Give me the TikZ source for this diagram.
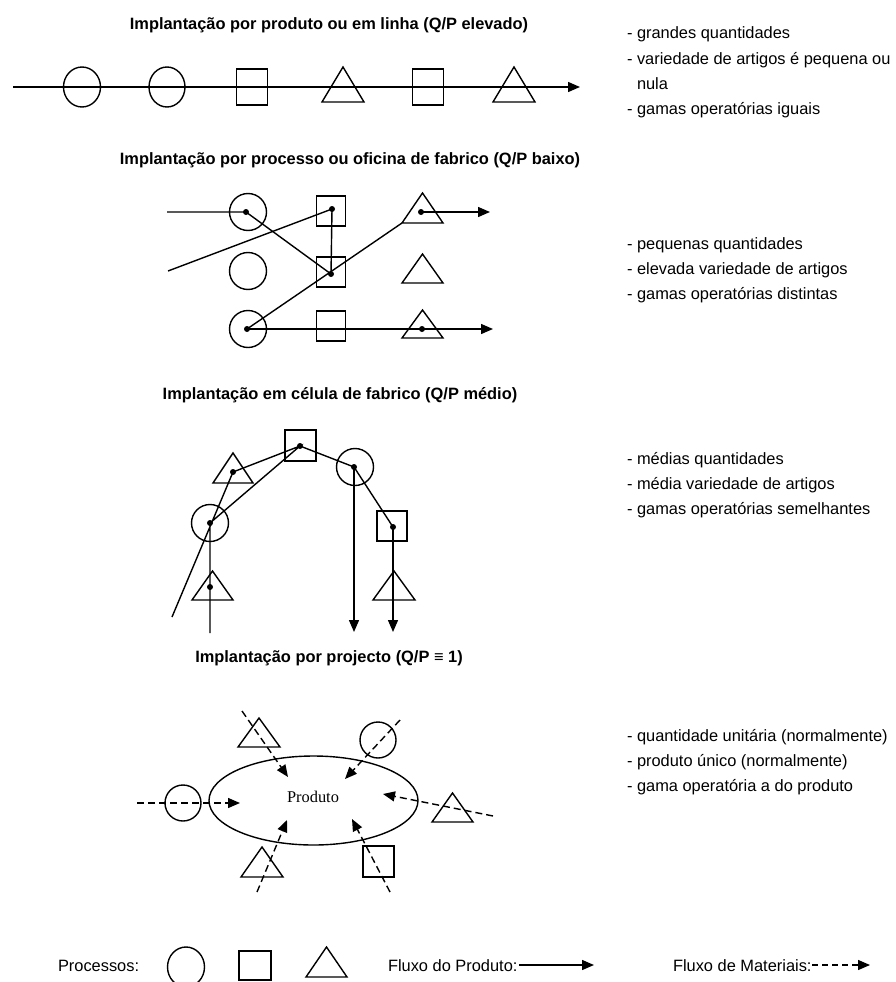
\documentclass[tikz,border=0pt]{standalone}
\usepackage{fontspec}
\setmainfont{Liberation Sans}
\newfontfamily\serifface{Liberation Serif}
\usetikzlibrary{arrows.meta,shapes.geometric}

% triangle drawn on the corners of an invisible box node
\newcommand{\drawtri}[1]{\draw[thickline, line join=miter] (#1.south west) -- (#1.north) -- (#1.south east) -- cycle;}

\begin{document}
\begin{tikzpicture}[x=1pt,y=-1pt,
  every node/.style={inner sep=0pt, outer sep=0pt},
  thickline/.style={line width=1.4pt},
  proc circ/.style={draw, thickline, circle, minimum size=#1},
  proc oval/.style 2 args={draw, thickline, ellipse, minimum width=#1, minimum height=#2},
  proc box/.style 2 args={draw, thickline, rectangle, minimum width=#1, minimum height=#2},
  tri box/.style 2 args={rectangle, minimum width=#1, minimum height=#2},
  dotmark/.style={circle, fill, minimum size=6pt},
  prodflow/.style={thickline, -{Triangle[length=12pt,width=10pt]}},
  prodline/.style={thickline},
  matflow/.style={thickline, dash pattern=on 7pt off 4pt, -{Triangle[length=12pt,width=10pt]}},
  heading/.style={font=\fontsize{16.4}{20}\selectfont\bfseries},
  note/.style={font=\fontsize{16.4}{20}\selectfont, anchor=base west},
]
\useasboundingbox (0,0) rectangle (895,982);

% ---------------- line layout ----------------
\node[heading] (h1) at (329,25) {Implantação por produto ou em linha (Q/P elevado)};
\coordinate (l0) at (13,87);
\coordinate (l1) at (580,87);
\node[proc oval={37}{40}] (a1) at (82,87) {};
\node[proc oval={36}{40}] (a2) at (167,87) {};
\node[proc box={31}{36}] (a3) at (252,87) {};
\node[tri box={42}{35}] (a4) at (343,84.5) {};
\node[proc box={31}{36}] (a5) at (428,87) {};
\node[tri box={42}{35}] (a6) at (514,84.5) {};
\drawtri{a4}
\drawtri{a6}
\draw[prodflow] (l0) -- (l1);

\node[note] (n1a) at (627,39) {- grandes quantidades};
\node[note] (n1b) at (627,64) {- variedade de artigos é pequena ou};
\node[note] (n1c) at (637,89) {nula};
\node[note] (n1d) at (627,114) {- gamas operatórias iguais};

% ---------------- process layout ----------------
\node[heading] (h2) at (350,160) {Implantação por processo ou oficina de fabrico (Q/P baixo)};
\node[proc circ=37] (b1) at (248,212) {};
\node[proc box={29}{30}] (b2) at (331,211) {};
\node[tri box={41}{30}] (b3) at (422.5,208) {};
\node[proc circ=37] (b4) at (248,271) {};
\node[proc box={29}{30}] (b5) at (331,272) {};
\node[tri box={41}{29}] (b6) at (422.5,268.5) {};
\node[proc circ=37] (b7) at (248,329) {};
\node[proc box={29}{30}] (b8) at (331,326) {};
\node[tri box={41}{28}] (b9) at (422.5,324) {};
\drawtri{b3}
\drawtri{b6}
\drawtri{b9}
\node[dotmark] (p1) at (246,212) {};
\node[dotmark] (p2) at (332,209) {};
\node[dotmark] (p3) at (421,212) {};
\node[dotmark] (p5) at (331,274) {};
\node[dotmark] (p7) at (247,329) {};
\node[dotmark] (p9) at (422,329) {};
\coordinate (in1) at (167,212);
\coordinate (in2) at (168,271);
\coordinate (out1) at (490,212);
\coordinate (out2) at (493,329);
\draw[prodline] (in1) -- (p1.center) -- (p5.center);
\draw[prodline] (in2) -- (p2.center) -- (p5.center);
\draw[prodline] (p7.center) -- (b3.south west);
\draw[prodflow] (p3.center) -- (out1);
\draw[prodflow] (p7.center) -- (out2);

\node[note] (n2a) at (627,249) {- pequenas quantidades};
\node[note] (n2b) at (627,274) {- elevada variedade de artigos};
\node[note] (n2c) at (627,299) {- gamas operatórias distintas};

% ---------------- cell layout ----------------
\node[heading] (h3) at (340,395) {Implantação em célula de fabrico (Q/P médio)};
\node[proc box={31}{31}] (c1) at (300.5,445.5) {};
\node[tri box={40}{30}] (c2) at (233,468) {};
\node[proc circ=37] (c3) at (355,467) {};
\node[proc circ=37] (c4) at (210,523) {};
\node[proc box={30}{30}] (c5) at (392,526) {};
\node[tri box={41}{29}] (c6) at (212.5,585.5) {};
\node[tri box={42}{29}] (c7) at (394,585.5) {};
\drawtri{c2}
\drawtri{c6}
\drawtri{c7}
\node[dotmark] (q1) at (300,446) {};
\node[dotmark] (q2) at (233,472) {};
\node[dotmark] (q3) at (354,467) {};
\node[dotmark] (q4) at (210,523) {};
\node[dotmark] (q5) at (393,527) {};
\node[dotmark] (q6) at (210,587) {};
\coordinate (cin) at (172,617);
\coordinate (cend) at (210,633);
\coordinate (cout1) at (354,632);
\coordinate (cout2) at (393,632);
\draw[prodline] (cin) -- (q2.center) -- (q1.center) -- (q4.center) -- (cend);
\draw[prodline] (q1.center) -- (q3.center) -- (q5.center);
\draw[prodflow] (q3.center) -- (cout1);
\draw[prodflow] (q5.center) -- (cout2);

\node[note] (n3a) at (627,464) {- médias quantidades};
\node[note] (n3b) at (627,489) {- média variedade de artigos};
\node[note] (n3c) at (627,514) {- gamas operatórias semelhantes};

% ---------------- project layout ----------------
\node[heading] (h4) at (329,658) {Implantação por projecto (Q/P ≡ 1)};
\node[proc oval={209}{89}] (e0) at (313.5,800.5) {};
\node[font=\serifface\fontsize{16.4}{20}\selectfont] (e1) at (313,797) {Produto};
\node[proc circ=36] (d1) at (183,803) {};
\node[tri box={42}{29}] (d2) at (259,732.5) {};
\node[proc circ=36] (d3) at (378,740) {};
\node[tri box={41}{29}] (d4) at (452.5,807.5) {};
\node[tri box={42}{30}] (d5) at (262,862) {};
\node[proc box={31}{31}] (d6) at (378.5,861.5) {};
\drawtri{d2}
\drawtri{d4}
\drawtri{d5}
\coordinate (m1s) at (137,803);  \coordinate (m1e) at (240,803);
\coordinate (m2s) at (242,711);  \coordinate (m2e) at (288,777);
\coordinate (m3s) at (400,720);  \coordinate (m3e) at (345,779);
\coordinate (m4s) at (493,816);  \coordinate (m4e) at (383,794);
\coordinate (m5s) at (257,892);  \coordinate (m5e) at (287,820);
\coordinate (m6s) at (390,892);  \coordinate (m6e) at (352,819);
\draw[matflow] (m1s) -- (m1e);
\draw[matflow] (m2s) -- (m2e);
\draw[matflow] (m3s) -- (m3e);
\draw[matflow] (m4s) -- (m4e);
\draw[matflow] (m5s) -- (m5e);
\draw[matflow] (m6s) -- (m6e);

\node[note] (n4a) at (627,741) {- quantidade unitária (normalmente)};
\node[note] (n4b) at (627,766) {- produto único (normalmente)};
\node[note] (n4c) at (627,791) {- gama operatória a do produto};

% ---------------- legend ----------------
\node[note] (k1) at (58,971) {Processos:};
\node[proc oval={37}{40}] (k2) at (186,967) {};
\node[proc box={32}{29}] (k3) at (255,965.5) {};
\node[tri box={41}{30}] (k4) at (326.5,962) {};
\drawtri{k4}
\node[note] (k5) at (388,971) {Fluxo do Produto:};
\coordinate (k6s) at (519,965); \coordinate (k6e) at (594,965);
\draw[prodflow] (k6s) -- (k6e);
\node[note] (k7) at (673,971) {Fluxo de Materiais:};
\coordinate (k8s) at (812,965); \coordinate (k8e) at (870,965);
\draw[thickline, dash pattern=on 6pt off 4pt, -{Triangle[length=12pt,width=10pt]}] (k8s) -- (k8e);
\end{tikzpicture}
\end{document}
